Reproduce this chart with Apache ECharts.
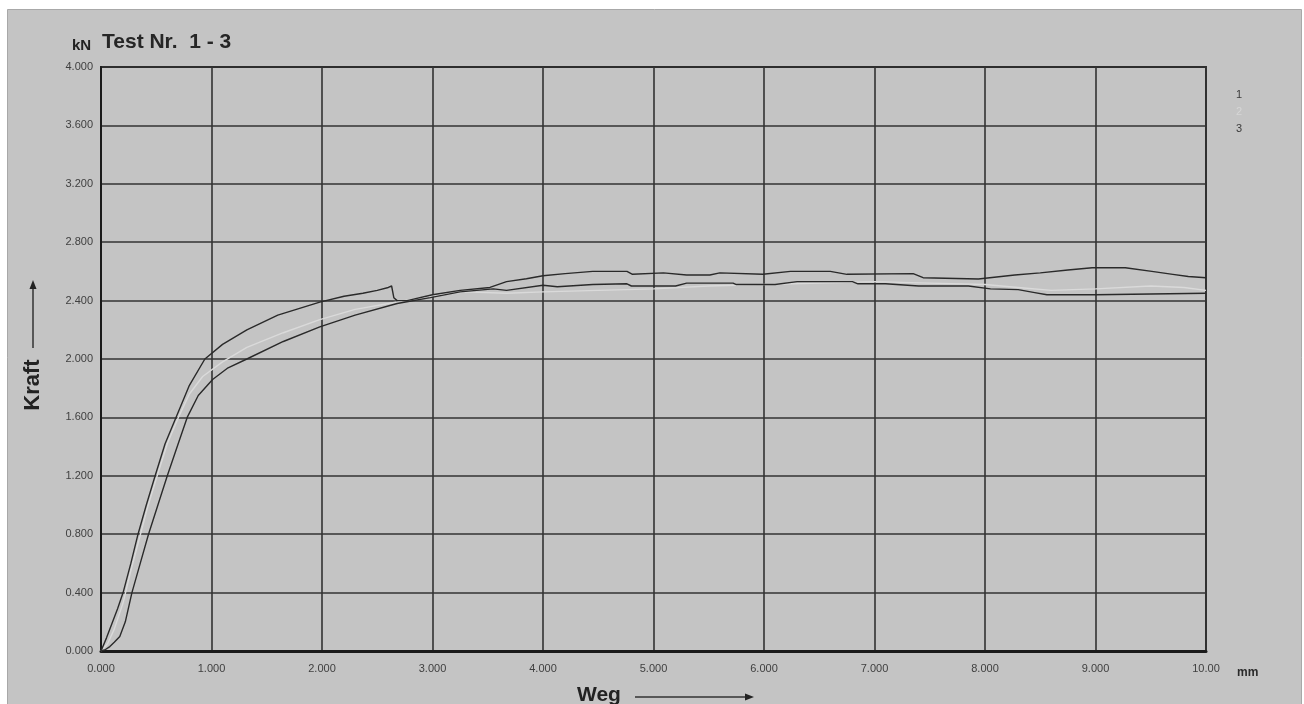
<!DOCTYPE html>
<html>
<head>
<meta charset="utf-8">
<script src="https://cdn.jsdelivr.net/npm/echarts@6/dist/echarts.min.js"></script>
<style>
html,body{margin:0;padding:0;background:#ffffff;}
#chart{width:1304px;height:704px;}
</style>
</head>
<body>
<div id="chart"></div>
<script>
// ---- data ----
const seriesNames = ['1', '2', '3'];
const xTicks = [0, 1, 2, 3, 4, 5, 6, 7, 8, 9, 10];
const yTicks = [0, 0.4, 0.8, 1.2, 1.6, 2.0, 2.4, 2.8, 3.2, 3.6, 4.0];

// curve 1 (dark, steeper start)
const curve1 = [
  [0,0],[0.05,0.09],[0.1,0.19],[0.15,0.29],[0.2,0.40],[0.27,0.6],[0.335,0.80],[0.41,1.0],
  [0.49,1.2],[0.58,1.42],[0.69,1.62],[0.8,1.82],[0.94,2.0],[1.1,2.1],[1.32,2.2],[1.6,2.3],
  [1.98,2.39],[2.2,2.43],[2.37,2.45],[2.5,2.47],[2.6,2.49],[2.63,2.5],[2.65,2.42],[2.68,2.40],
  [2.77,2.40],[3.0,2.44],[3.25,2.47],[3.52,2.49],[3.67,2.53],[3.85,2.55],[4.0,2.57],[4.2,2.585],
  [4.45,2.60],[4.76,2.60],[4.81,2.58],[5.09,2.59],[5.3,2.575],[5.51,2.575],[5.6,2.59],[5.99,2.58],
  [6.24,2.60],[6.6,2.60],[6.75,2.58],[7.35,2.585],[7.44,2.557],[7.94,2.548],[8.27,2.575],[8.5,2.59],
  [8.75,2.61],[8.97,2.625],[9.27,2.625],[9.51,2.60],[9.7,2.58],[9.84,2.565],[10,2.557]
];
// curve 2 (light grey)
const curve2 = [
  [0,0],[0.06,0.05],[0.12,0.15],[0.2,0.33],[0.27,0.55],[0.34,0.75],[0.42,0.98],[0.5,1.18],
  [0.6,1.42],[0.7,1.6],[0.8,1.76],[0.92,1.88],[1.1,1.98],[1.32,2.08],[1.65,2.18],[1.98,2.27],
  [2.3,2.34],[2.68,2.39],[2.98,2.43],[3.3,2.46],[3.67,2.45],[4.0,2.46],[4.5,2.47],[5.0,2.48],
  [5.5,2.5],[6.0,2.51],[6.5,2.52],[7.0,2.53],[7.5,2.52],[8.0,2.51],[8.3,2.49],[8.6,2.47],
  [9.0,2.48],[9.5,2.5],[9.8,2.49],[10,2.47]
];
// curve 3 (dark, with toe)
const curve3 = [
  [0,0],[0.04,0.01],[0.08,0.03],[0.12,0.06],[0.17,0.1],[0.22,0.2],[0.28,0.4],[0.355,0.6],
  [0.43,0.8],[0.515,1.0],[0.6,1.2],[0.69,1.4],[0.78,1.6],[0.88,1.75],[1.01,1.86],[1.15,1.94],
  [1.32,2.0],[1.65,2.12],[1.98,2.22],[2.3,2.3],[2.68,2.38],[2.98,2.42],[3.25,2.46],[3.55,2.48],
  [3.67,2.47],[4.0,2.505],[4.13,2.495],[4.45,2.51],[4.76,2.515],[4.8,2.50],[5.2,2.50],[5.3,2.52],
  [5.72,2.52],[5.75,2.51],[6.1,2.51],[6.3,2.53],[6.8,2.53],[6.85,2.515],[7.1,2.515],[7.4,2.50],
  [7.85,2.50],[8.05,2.48],[8.3,2.475],[8.45,2.455],[8.56,2.44],[9.0,2.44],[9.5,2.445],[10,2.45]
];

const curves = [curve1, curve2, curve3];
const colors = ['#2a2a2a', '#dadada', '#2a2a2a'];
const legendColors = ['#3a3a3a', '#d6d6d6', '#3a3a3a'];

const chart = echarts.init(document.getElementById('chart'), null, {renderer: 'canvas'});
const FONT = 'Liberation Sans, Arial, sans-serif';

function fmtX(v) { return v >= 10 ? v.toFixed(2) : v.toFixed(3); }

const option = {
  backgroundColor: '#ffffff',
  animation: false,
  graphic: [
    { type: 'rect', z: -10, shape: {x: 7.5, y: 9.5, width: 1294, height: 700},
      style: {fill: '#c4c4c4', stroke: '#a8a8a8', lineWidth: 1} },
    { type: 'text', left: 72, top: 38, z: 10,
      style: {text: 'kN', font: 'bold 15px ' + FONT, fill: '#222'} },
    { type: 'text', left: 102, top: 32, z: 10,
      style: {text: 'Test Nr.  1 - 3', font: 'bold 21px ' + FONT, fill: '#262626'} },
    { type: 'text', x: 1237, y: 673, z: 10,
      style: {text: 'mm', font: 'bold 12px ' + FONT, fill: '#2a2a2a', verticalAlign: 'middle'} },
    { type: 'text', x: 577, y: 695, z: 10,
      style: {text: 'Weg', font: 'bold 21px ' + FONT, fill: '#222', verticalAlign: 'middle'} },
    { type: 'line', z: 10, shape: {x1: 635, y1: 697, x2: 746, y2: 697},
      style: {stroke: '#333', lineWidth: 1.5} },
    { type: 'polygon', z: 10, shape: {points: [[745, 693.5], [754, 697], [745, 700.5]]},
      style: {fill: '#222'} },
    { type: 'text', x: 33, y: 385, rotation: Math.PI / 2, z: 10,
      style: {text: 'Kraft', font: 'bold 22px ' + FONT, fill: '#222', align: 'center', verticalAlign: 'middle'} },
    { type: 'line', z: 10, shape: {x1: 33, y1: 348, x2: 33, y2: 288},
      style: {stroke: '#333', lineWidth: 1.5} },
    { type: 'polygon', z: 10, shape: {points: [[29.5, 289], [33, 280], [36.5, 289]]},
      style: {fill: '#222'} }
  ],
  legend: {
    orient: 'vertical',
    left: 1226,
    top: 84,
    itemWidth: 0,
    itemHeight: 0,
    itemGap: 5,
    selectedMode: false,
    textStyle: {fontSize: 11, lineHeight: 12, fontFamily: FONT, padding: 0},
    data: seriesNames.map((n, i) => ({name: n, icon: 'rect', itemStyle: {opacity: 0},
      textStyle: {color: legendColors[i]}}))
  },
  grid: {
    left: 101, right: 98, top: 67, bottom: 53,
    show: true, borderColor: '#222', borderWidth: 1.8, backgroundColor: 'transparent'
  },
  xAxis: {
    type: 'value', min: xTicks[0], max: xTicks[xTicks.length - 1], interval: 1,
    axisLine: {show: true, lineStyle: {color: '#1a1a1a', width: 3}},
    axisTick: {show: false},
    splitLine: {show: true, lineStyle: {color: '#333333', width: 1.6}},
    axisLabel: {margin: 12, fontSize: 11, fontFamily: FONT, color: '#404040',
      formatter: v => fmtX(v), showMaxLabel: true, showMinLabel: true}
  },
  yAxis: {
    type: 'value', min: yTicks[0], max: yTicks[yTicks.length - 1], interval: 0.4,
    axisLine: {show: true, lineStyle: {color: '#1a1a1a', width: 2}},
    axisTick: {show: false},
    splitLine: {show: true, lineStyle: {color: '#333333', width: 1.6}},
    axisLabel: {margin: 8, fontSize: 11, fontFamily: FONT, color: '#404040',
      formatter: v => v.toFixed(3)}
  },
  series: curves.map((c, i) => ({
    name: seriesNames[i],
    type: 'line',
    data: c,
    showSymbol: false,
    symbol: 'none',
    z: i === 1 ? 3 : 4,
    lineStyle: {color: colors[i], width: 1.4},
    itemStyle: {color: colors[i]}
  }))
};
chart.setOption(option);
</script>
</body>
</html>
